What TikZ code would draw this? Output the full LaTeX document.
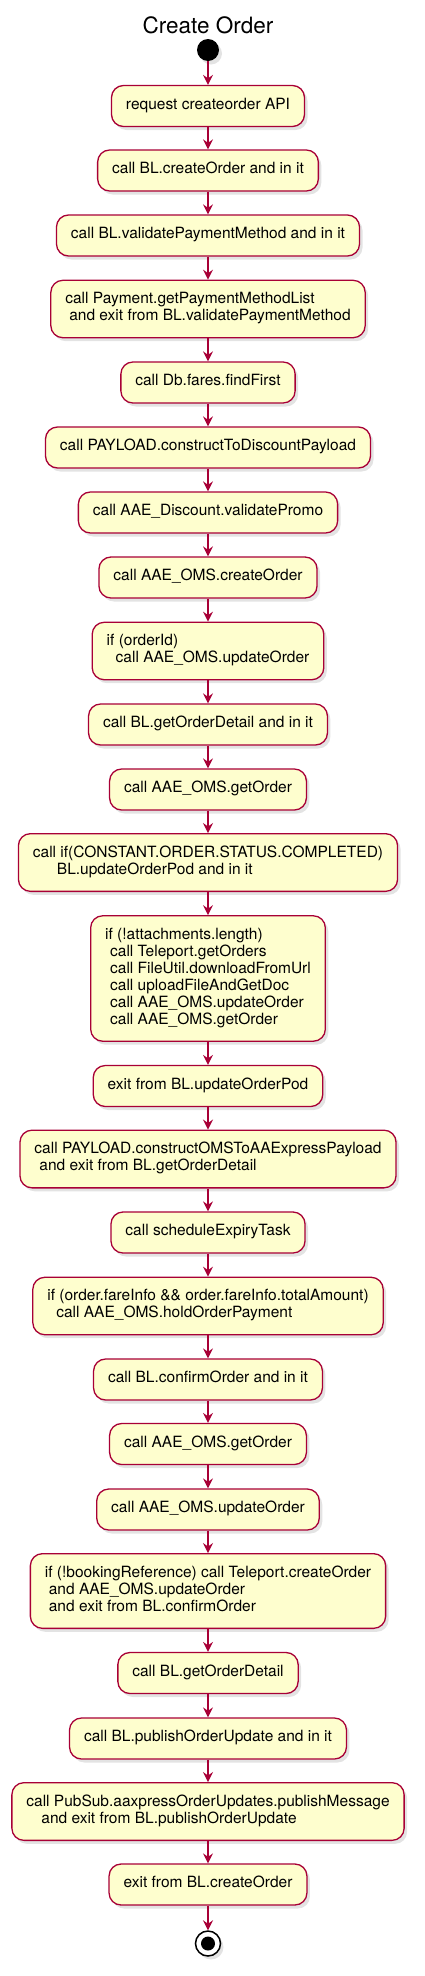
\documentclass[tikz,border=0pt]{standalone}
\usepackage{fontspec}
\setmainfont{TeX Gyre Heros}
\usetikzlibrary{arrows.meta,shadows}
\definecolor{umlred}{HTML}{A80036}
\definecolor{umlfill}{HTML}{FEFECE}
\tikzset{
    umlshadow/.style={drop shadow={shadow xshift=3pt,shadow yshift=-3.5pt,opacity=0.22}},
    act/.style={draw=umlred,fill=umlfill,line width=1.3pt,rounded corners=12pt,
        align=left,inner xsep=14.5pt,inner ysep=12pt,
        font=\fontsize{15.5}{17}\selectfont,
        execute at begin node=\strut,execute at end node=\strut,umlshadow},
    flow/.style={umlred,line width=1.3pt,-{Stealth[length=10pt,width=10pt,inset=3.5pt]}}
}

\begin{document}
\begin{tikzpicture}[x=1pt,y=-1pt]
            \useasboundingbox (0,0) rectangle (424,1976);
            \node[anchor=base,font=\fontsize{22.5}{26}\selectfont] (title) at (208,33) {Create Order};
            \node[circle,fill=black,minimum size=22pt,inner sep=0pt,umlshadow] (start) at (208,50) {};

            \foreach \i/\y/\txt in {
                1/106/{request createorder API},
                2/170.5/{call BL.createOrder and in it},
                3/235.5/{call BL.validatePaymentMethod and in it},
                4/309/{call Payment.getPaymentMethodList\\\hspace*{4pt}and exit from BL.validatePaymentMethod},
                5/382.5/{call Db.fares.findFirst},
                6/447.5/{call PAYLOAD.constructToDiscountPayload},
                7/512.5/{call AAE\_Discount.validatePromo},
                8/577.5/{call AAE\_OMS.createOrder},
                9/651/{if (orderId)\\\hspace*{9pt}call AAE\_OMS.updateOrder},
                10/724.5/{call BL.getOrderDetail and in it},
                11/789.5/{call AAE\_OMS.getOrder},
                12/862.5/{call if(CONSTANT.ORDER.STATUS.COMPLETED)\\\hspace*{24pt}BL.updateOrderPod and in it},
                13/978.5/{if (!attachments.length)\\\hspace*{5pt}call Teleport.getOrders\\\hspace*{5pt}call FileUtil.downloadFromUrl\\\hspace*{5pt}call uploadFileAndGetDoc\\\hspace*{5pt}call AAE\_OMS.updateOrder\\\hspace*{5pt}call AAE\_OMS.getOrder},
                14/1086/{exit from BL.updateOrderPod},
                15/1159/{call PAYLOAD.constructOMSToAAExpressPayload\\\hspace*{5pt}and exit from BL.getOrderDetail},
                16/1232.5/{call scheduleExpiryTask},
                17/1306/{if (order.fareInfo \&\& order.fareInfo.totalAmount)\\\hspace*{9pt}call AAE\_OMS.holdOrderPayment},
                18/1379.5/{call BL.confirmOrder and in it},
                19/1444/{call AAE\_OMS.getOrder},
                20/1509.5/{call AAE\_OMS.updateOrder},
                21/1591/{if (!bookingReference) call Teleport.createOrder\\\hspace*{4pt}and AAE\_OMS.updateOrder\\\hspace*{4pt}and exit from BL.confirmOrder},
                22/1673/{call BL.getOrderDetail},
                23/1738.5/{call BL.publishOrderUpdate and in it},
                24/1811.5/{call PubSub.aaxpressOrderUpdates.publishMessage\\\hspace*{15pt}and exit from BL.publishOrderUpdate},
                25/1884.5/{exit from BL.createOrder}} {
                \node[act] (a\i) at (208,\y) {\txt};
            }

            \node[circle,draw=black,line width=1.5pt,fill=white,minimum size=25pt,inner sep=0pt,umlshadow] (stop) at (208,1943.5) {};
            \node[circle,fill=black,minimum size=14pt,inner sep=0pt] (stopdot) at (stop) {};

            \draw[flow] (start) -- (a1);
            \foreach \i [count=\j from 2] in {1,...,24} {
                \draw[flow] (a\i) -- (a\j);
            }
            \draw[flow] (a25) -- (stop);
        \end{tikzpicture}
\end{document}
